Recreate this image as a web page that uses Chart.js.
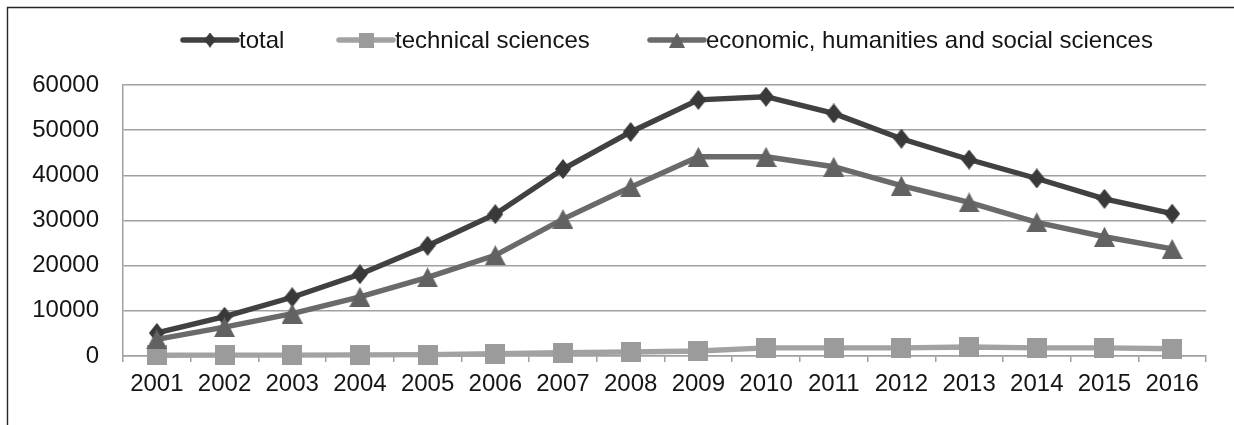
<!DOCTYPE html>
<html>
<head>
<meta charset="utf-8">
<title>Graduates by field, 2001–2016</title>
<script src="https://cdn.jsdelivr.net/npm/chart.js@4/dist/chart.umd.min.js"></script>
<style>
  html, body { margin: 0; padding: 0; background: #fff; }
  #wrap { width: 1234px; height: 425px; }
</style>
</head>
<body>
<div id="wrap"><canvas id="chart" width="1234" height="425"></canvas></div>
<script>
// Years on the category axis
const years = ['2001','2002','2003','2004','2005','2006','2007','2008',
               '2009','2010','2011','2012','2013','2014','2015','2016'];

// Series values
const total = [5100, 8700, 13000, 18100, 24400, 31400, 41400, 49600,
               56700, 57400, 53700, 48100, 43500, 39300, 34800, 31500];
const technical = [150, 200, 200, 250, 300, 500, 750, 900,
                   1100, 1800, 1800, 1800, 2000, 1800, 1800, 1600];
const economic = [3700, 6400, 9400, 13100, 17400, 22300, 30300, 37400,
                  44100, 44100, 41900, 37700, 34000, 29600, 26400, 23700];

// Series names
const seriesNames = ['total', 'technical sciences', 'economic, humanities and social sciences'];

// Value axis ticks
const yTicks = [0, 10000, 20000, 30000, 40000, 50000, 60000];

const FONT = '"Liberation Sans", Arial, sans-serif';
const FONT_SIZE = 24;

// Marker images: tall diamond, square, triangle
function marker(kind, w, h, color) {
  const c = document.createElement('canvas');
  c.width = w; c.height = h;
  const g = c.getContext('2d');
  g.fillStyle = color;
  g.beginPath();
  if (kind === 'diamond') {
    g.moveTo(w / 2, 0); g.lineTo(w, h / 2); g.lineTo(w / 2, h); g.lineTo(0, h / 2);
  } else if (kind === 'square') {
    g.rect(0, 0, w, h);
  } else {
    g.moveTo(w / 2, 0); g.lineTo(w, h); g.lineTo(0, h);
  }
  g.closePath();
  g.fill();
  return c;
}

const styles = [
  { line: '#414141', mark: marker('diamond', 16, 20, '#393939') },
  { line: '#a2a2a2', mark: marker('square', 20, 20, '#9b9b9b') },
  { line: '#6a6a6a', mark: marker('triangle', 21, 20, '#626262') }
];

// Outer frame and a legend with line + marker swatches
const frameAndLegend = {
  id: 'frameAndLegend',
  beforeDraw(chart) {
    const ctx = chart.ctx;
    ctx.save();
    ctx.fillStyle = '#fff';
    ctx.fillRect(0, 0, chart.width, chart.height);
    ctx.strokeStyle = '#262626';
    ctx.lineWidth = 1.4;
    ctx.beginPath();
    ctx.moveTo(7.5, chart.height);
    ctx.lineTo(7.5, 7.5);
    ctx.lineTo(chart.width, 7.5);
    ctx.stroke();
    ctx.restore();
  },
  afterDraw(chart) {
    const ctx = chart.ctx;
    const starts = [181, 337, 648];
    const y = 40;
    ctx.save();
    ctx.font = FONT_SIZE + 'px ' + FONT;
    ctx.textBaseline = 'middle';
    ctx.fillStyle = '#151515';
    seriesNames.forEach((name, i) => {
      const x0 = starts[i];
      ctx.strokeStyle = styles[i].line;
      ctx.lineWidth = 5.5;
      ctx.lineCap = 'round';
      ctx.beginPath();
      ctx.moveTo(x0 + 2, y);
      ctx.lineTo(x0 + 56, y);
      ctx.stroke();
      const m = styles[i].mark;
      const s = 0.75;
      ctx.drawImage(m, x0 + 29 - m.width * s / 2, y - m.height * s / 2, m.width * s, m.height * s);
      ctx.fillText(name, x0 + 58, y + 1);
    });
    ctx.restore();
  }
};

const datasets = [total, technical, economic].map((values, i) => ({
  label: seriesNames[i],
  data: values,
  borderColor: styles[i].line,
  backgroundColor: styles[i].line,
  borderWidth: 5.4,
  pointStyle: styles[i].mark,
  pointRadius: 10,
  pointHoverRadius: 10,
  tension: 0,
  clip: false,
  order: 3 - i
}));

new Chart(document.getElementById('chart'), {
  type: 'line',
  data: { labels: years, datasets },
  options: {
    responsive: false,
    animation: false,
    devicePixelRatio: 1,
    layout: { padding: { top: 85, right: 28, left: 0, bottom: 0 } },
    plugins: { legend: { display: false }, tooltip: { enabled: false } },
    scales: {
      x: {
        offset: true,
        grid: {
          offset: true,
          drawOnChartArea: false,
          drawTicks: true,
          tickLength: 6,
          color: '#a0a0a0',
          lineWidth: 1.5
        },
        border: { display: true, color: '#a0a0a0', width: 1.5 },
        ticks: {
          color: '#151515',
          font: { family: FONT, size: FONT_SIZE },
          padding: 8,
          maxRotation: 0,
          autoSkip: false
        },
        afterFit(scale) { scale.height = 69; }
      },
      y: {
        min: yTicks[0],
        max: yTicks[yTicks.length - 1],
        afterBuildTicks(scale) { scale.ticks = yTicks.map(v => ({ value: v })); },
        grid: { color: '#a0a0a0', lineWidth: 1.5, drawTicks: false, tickLength: 0 },
        border: { display: true, color: '#a0a0a0', width: 1.5 },
        ticks: {
          color: '#151515',
          font: { family: FONT, size: FONT_SIZE },
          padding: 24,
          callback: v => String(v)
        },
        afterFit(scale) { scale.width = 123; }
      }
    }
  },
  plugins: [frameAndLegend]
});
</script>
</body>
</html>
